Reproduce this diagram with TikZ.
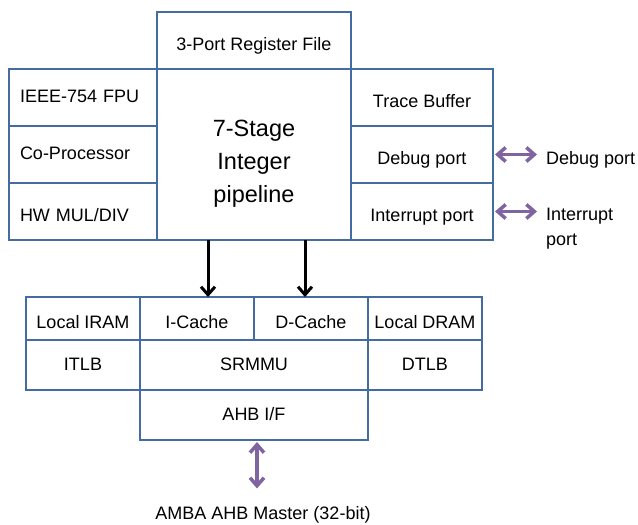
\documentclass[tikz,border=0pt]{standalone}
\usepackage{fontspec}
\setmainfont{Liberation Sans}
\usetikzlibrary{positioning,arrows.meta}
\definecolor{cellblue}{RGB}{68,108,163}
\definecolor{portpurple}{RGB}{128,100,162}
\begin{document}
\begin{tikzpicture}[x=1pt, y=-1pt,
	cell/.style = {draw=cellblue, line width=2.5pt, outer sep=0pt, inner xsep=3pt, text height=13pt, text depth=3pt, font=\fontsize{18}{24}\selectfont},
	low/.style = {text height=20pt, text depth=0pt},
	lcell/.style = {cell, align=left, text width=126pt, inner xsep=11pt, minimum width=148pt, minimum height=57pt},
	rcell/.style = {cell, low, minimum width=142pt, minimum height=57pt},
	mem/.style = {cell, minimum width=114pt, minimum height=#1},
	big/.style = {align=center, inner sep=0pt, font=\fontsize{23.5}{33}\selectfont},
	ext/.style = {inner sep=0pt, font=\fontsize{18}{25}\selectfont},
	blk/.style = {draw=black, line width=3pt, -{Straight Barb[length=8pt, width=14pt]}},
	dbl/.style = {draw=portpurple, line width=3.5pt, {Straight Barb[length=8pt, width=14pt]}-{Straight Barb[length=8pt, width=14pt]}, shorten <=2pt}]
		\useasboundingbox (0,0) rectangle (638,525);
		\node[cell, low, minimum width=194pt, minimum height=57pt] (reg) at (254,40.5) {3-Port Register File};
		\node[cell, minimum width=194pt, minimum height=171pt] (pipe) [below=0pt of reg] {};
		\node[big, yshift=-9pt] (stages) at (pipe) {7-Stage\\Integer\\pipeline};
		\node[lcell] (fpu) [anchor=north east] at (pipe.north west) {IEEE-754 FPU};
		\node[lcell] (cop) [below=0pt of fpu] {Co-Processor};
		\node[lcell, low] (mul) [below=0pt of cop] {HW MUL/DIV};
		\node[rcell] (trace) [anchor=north west] at (pipe.north east) {Trace Buffer};
		\node[rcell] (dbg) [below=0pt of trace] {Debug port};
		\node[rcell] (irq) [below=0pt of dbg] {Interrupt port};
		\node[mem=43pt, low] (iram) at (83,318.5) {Local IRAM};
		\node[mem=43pt, low] (icache) [right=0pt of iram] {I-Cache};
		\node[mem=43pt, low] (dcache) [right=0pt of icache] {D-Cache};
		\node[mem=43pt, low] (dram) [right=0pt of dcache] {Local DRAM};
		\node[mem=50pt] (itlb) [below=0pt of iram] {ITLB};
		\node[cell, minimum width=228pt, minimum height=50pt] (mmu) [anchor=north west] at (icache.south west) {SRMMU};
		\node[mem=50pt] (dtlb) [below=0pt of dram] {DTLB};
		\node[cell, minimum width=228pt, minimum height=50pt] (ahb) [below=0pt of mmu] {AHB I/F};
		\node[ext, anchor=west] (dbgx) at (546,160) {Debug port};
		\node[ext, anchor=north west, align=left] (irqx) at (546,208) {Interrupt\\port};
		\node[ext] (amba) at (263,515) {AMBA AHB Master (32-bit)};
		\draw[blk] ([xshift=-46pt]pipe.south) -- ([xshift=11pt]icache.north);
		\draw[blk] ([xshift=51pt]pipe.south) -- ([xshift=-6pt]dcache.north);
		\draw[dbl, shorten >=9pt] (dbg.east) -- (dbg.east -| dbgx.west);
		\draw[dbl, shorten >=9pt] (irq.east) -- (irq.east -| irqx.west);
		\draw[dbl, shorten >=18pt] ([xshift=3pt]ahb.south) -- ([xshift=3pt]ahb.south |- amba.north);
	\end{tikzpicture}
\end{document}
